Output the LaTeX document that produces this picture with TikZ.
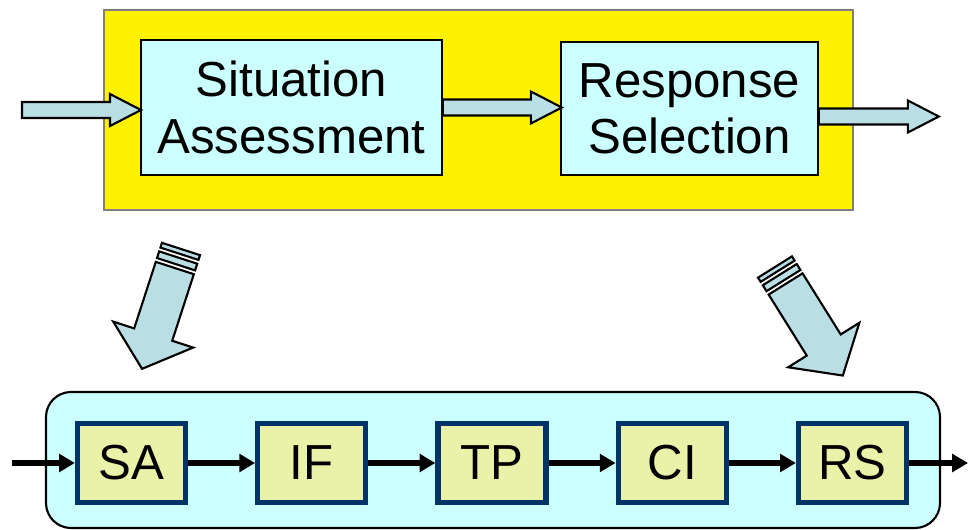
\documentclass[tikz,border=0pt]{standalone}
\usepackage{fontspec}
\setmainfont{Liberation Sans}
\usetikzlibrary{positioning,calc,arrows.meta}
\definecolor{paleCyan}{RGB}{204,255,255}
\definecolor{boxGreen}{RGB}{234,242,170}
\definecolor{navyEdge}{RGB}{0,51,102}
\definecolor{arrowBlue}{RGB}{185,222,228}

\begin{document}
\begin{tikzpicture}[
    x=0.02cm, y=-0.02cm,
    node distance=1.34cm,
    stage/.style={rectangle, draw=black, fill=paleCyan, line width=1pt, align=center, font=\fontsize{28}{32}\selectfont},
    task/.style={rectangle, draw=navyEdge, fill=boxGreen, line width=3pt, minimum width=2.16cm, minimum height=1.58cm, font=\fontsize{28}{32}\selectfont},
    arrowfill/.style={draw=black, fill=arrowBlue, line width=1.2pt},
    flow/.style={line width=3.2pt, -{Triangle[length=9pt,width=10pt]}},
    pics/fatarrow/.style={code={
        \draw[arrowfill] (0,-8) -- (#1-31,-8) -- (#1-31,-16) -- (#1,0) -- (#1-31,16) -- (#1-31,8) -- (0,8) -- cycle;
    }},
    pics/stripedarrow/.style={code={
        \draw[arrowfill] (0,-20) rectangle (5,20);
        \draw[arrowfill] (9,-20) rectangle (16,20);
        \draw[arrowfill] (20,-20) -- (#1-36,-20) -- (#1-36,-42) -- (#1,0) -- (#1-36,42) -- (#1-36,20) -- (20,20) -- cycle;
    }}
]
\useasboundingbox (0,0) rectangle (968,530);

% model level
\draw[draw=gray, fill=yellow, line width=0.8pt] (104,10) rectangle (853,210);
\node[stage, minimum width=6.02cm, minimum height=2.7cm] (sit) at (291.5,107.5) {Situation\\Assessment};
\node[stage, minimum width=5.14cm, minimum height=2.66cm] (resp) at (689.5,108.5) {Response\\Selection};

\coordinate (in) at (22,110);
\pic at (in) {fatarrow=119};
\pic at (sit.east) {fatarrow=119};
\pic at ($(resp.east)+(0,8)$) {fatarrow=120};

% refinement
\pic[rotate=252] at (181,249) {stripedarrow=126};
\pic[rotate=-58] at (775,267) {stripedarrow=128};

% task level
\draw[fill=paleCyan, line width=1.2pt, rounded corners=0.5cm] (46,392) rectangle (940,528);
\node[task] (sa) at (131.5,463) {SA};
\node[task, right=of sa] (if) {IF};
\node[task, right=of if] (tp) {TP};
\node[task, right=of tp] (ci) {CI};
\node[task, right=of ci] (rs) {RS};

\coordinate (src) at (12,463);
\coordinate (sink) at (968,463);
\draw[flow] (src) -- (sa);
\draw[flow] (sa) -- (if);
\draw[flow] (if) -- (tp);
\draw[flow] (tp) -- (ci);
\draw[flow] (ci) -- (rs);
\draw[flow] (rs) -- (sink);
\end{tikzpicture}
\end{document}
